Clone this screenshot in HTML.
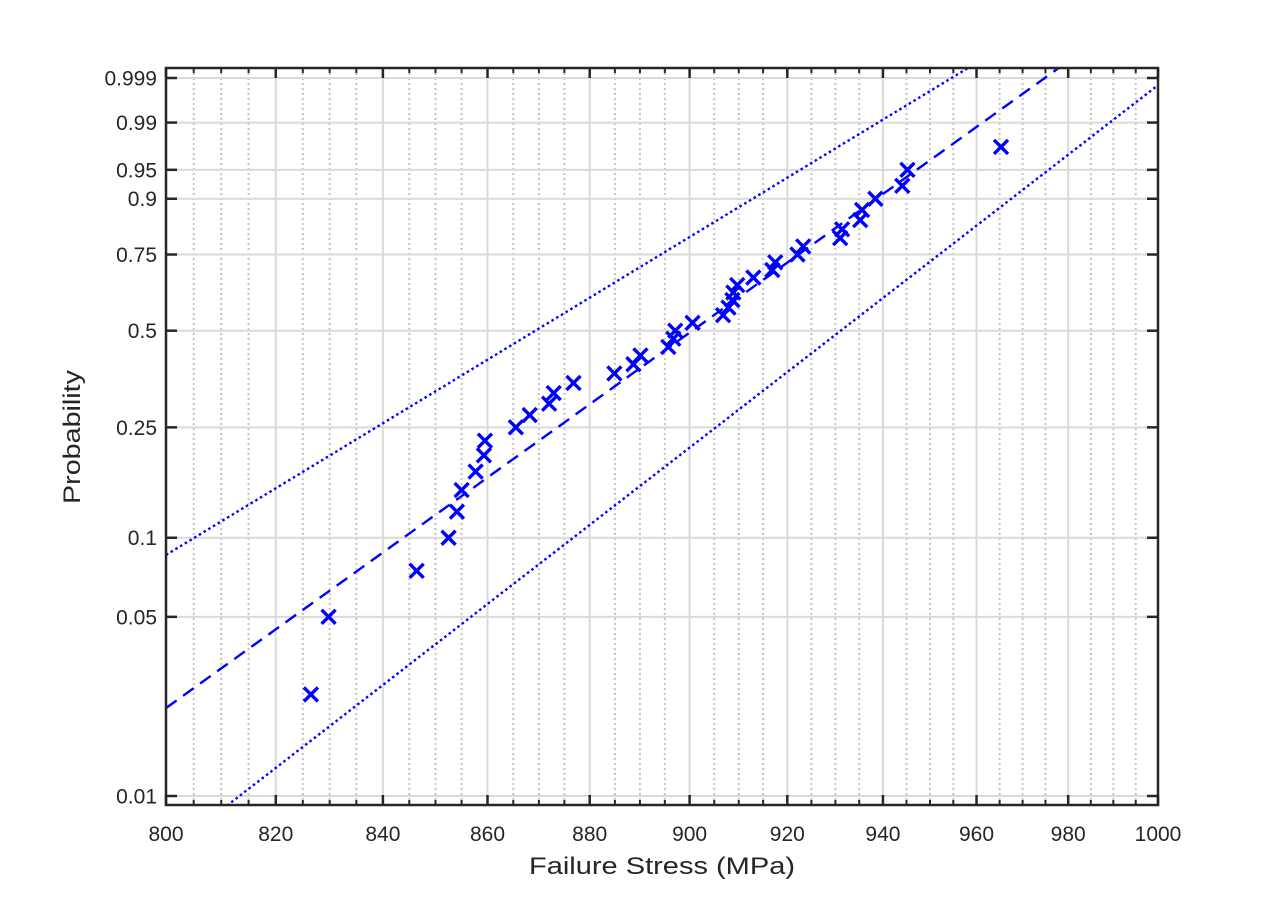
<!DOCTYPE html>
<html><head><meta charset="utf-8"><style>
html,body{margin:0;padding:0;background:#fff;}
svg{display:block;font-family:"Liberation Sans",Arial,sans-serif;}
</style></head><body>
<svg id="chart" width="1280" height="907" viewBox="0 0 1280 907" xmlns="http://www.w3.org/2000/svg">
<rect x="0" y="0" width="1280" height="907" fill="#fff"/>
<g id="grid"></g>
<g id="series"></g>
<g id="axes"></g>
<text x="662" y="874" font-size="24" text-anchor="middle" fill="#262626" textLength="266" lengthAdjust="spacingAndGlyphs">Failure Stress (MPa)</text>
<text x="0" y="0" font-size="24" text-anchor="middle" fill="#262626" textLength="134" lengthAdjust="spacingAndGlyphs" transform="translate(80,437) rotate(-90)">Probability</text>
</svg>
<script>
// ---- data ----
const stressValues = [826.5,829.8,846.4,852.5,854.1,855.0,857.7,859.3,859.5,865.5,868.2,872.0,872.9,876.8,884.9,888.7,890.1,895.7,896.7,897.1,900.6,906.8,907.9,908.7,908.9,909.7,913.0,916.9,917.5,922.1,923.3,931.0,931.4,935.2,935.6,938.4,944.1,945.2,965.3];
const xTicks = [800,820,840,860,880,900,920,940,960,980,1000];
const yTicks = [0.01,0.05,0.1,0.25,0.5,0.75,0.9,0.95,0.99,0.999];
const yTickLabels = ["0.01","0.05","0.1","0.25","0.5","0.75","0.9","0.95","0.99","0.999"];
const fitParams = [29.0, 912.0];        // [shape beta, scale eta]
const upperBound = [24.56, -2.407];      // [slope, w at 800 MPa]
const lowerBound = [31.30, -4.682, 811.2]; // [slope, w at ref stress, ref stress]

// ---- layout ----
const L=166,R=1158,T=68,B=805;
const X0=800,X1=1000;
function xs(v){return L+(Math.log(v)-Math.log(X0))/(Math.log(X1)-Math.log(X0))*(R-L);}
function wOf(p){return Math.log(-Math.log(1-p));}
const W0=wOf(0.01),W1=wOf(0.999),Y0=796,Y1=78;
function yw(w){return Y0+(w-W0)/(W1-W0)*(Y1-Y0);}
function ys(p){return yw(wOf(p));}
const NS="http://www.w3.org/2000/svg";
function mk(tag,attrs,parent){const e=document.createElementNS(NS,tag);for(const k in attrs)e.setAttribute(k,attrs[k]);parent.appendChild(e);return e;}
const grid=document.getElementById('grid'),series=document.getElementById('series'),axes=document.getElementById('axes');

for(let v=805;v<1000;v+=5){
  if(v%20===0)continue;
  const g=mk('line',{x1:xs(v),x2:xs(v),y1:T,y2:B,stroke:'#c4c4c4','stroke-width':2,'stroke-dasharray':'2 3'},grid);
  
  
}
xTicks.forEach(v=>{
  const g=mk('line',{x1:xs(v),x2:xs(v),y1:T,y2:B,stroke:'#dadada','stroke-width':2},grid);
  
  
});
yTicks.forEach(p=>{
  const g=mk('line',{x1:L,x2:R,y1:ys(p),y2:ys(p),stroke:'#dadada','stroke-width':2},grid);
  
  
});

const defs=mk('defs',{},series);
const cp=mk('clipPath',{id:'clip'},defs);
mk('rect',{x:L,y:T,width:R-L,height:B-T},cp);
const sg=mk('g',{'clip-path':'url(#clip)'},series);

function lineFrom(fn,dash,name){
  let d='';
  for(let i=0;i<=100;i++){const v=X0+(X1-X0)*i/100;d+=(i?'L':'M')+xs(v).toFixed(1)+','+yw(fn(v)).toFixed(1);}
  const e=mk('path',{d:d,fill:'none',stroke:'#0000ff','stroke-width':2.4,'stroke-dasharray':dash},sg);
  
  
}
lineFrom(v=>fitParams[0]*(Math.log(v)-Math.log(fitParams[1])),'13 8','fit-line');
lineFrom(v=>upperBound[1]+upperBound[0]*(Math.log(v)-Math.log(X0)),'2.5 3','upper-confidence-bound');
lineFrom(v=>lowerBound[1]+lowerBound[0]*(Math.log(v)-Math.log(lowerBound[2])),'2.5 3','lower-confidence-bound');

const n=stressValues.length;
stressValues.forEach((s,i)=>{
  const p=(i+1)/(n+1);
  const cx=xs(s),cy=ys(p),h=7;
  const g=mk('path',{d:`M${cx-h},${cy-h}L${cx+h},${cy+h}M${cx-h},${cy+h}L${cx+h},${cy-h}`,stroke:'#0000ff','stroke-width':3.4,fill:'none'},sg);
  
  
});

const box=mk('rect',{x:L,y:T,width:R-L,height:B-T,fill:'none',stroke:'#262626','stroke-width':2.5},axes);


for(let v=805;v<1000;v+=5){
  if(v%20===0)continue;
  const x=xs(v);
  mk('line',{x1:x,x2:x,y1:B,y2:B-5,stroke:'#262626','stroke-width':2},axes);
  mk('line',{x1:x,x2:x,y1:T,y2:T+5,stroke:'#262626','stroke-width':2},axes);
}
xTicks.forEach(v=>{
  const x=xs(v);
  mk('line',{x1:x,x2:x,y1:B,y2:B-10,stroke:'#262626','stroke-width':2.5},axes);
  mk('line',{x1:x,x2:x,y1:T,y2:T+10,stroke:'#262626','stroke-width':2.5},axes);
  const t=mk('text',{x:x,y:841,'font-size':21,'text-anchor':'middle',fill:'#262626'},axes);
  t.textContent=String(v);
  
  
});
yTicks.forEach((p,i)=>{
  const y=ys(p);
  mk('line',{x1:L,x2:L+11,y1:y,y2:y,stroke:'#262626','stroke-width':2.5},axes);
  mk('line',{x1:R,x2:R-11,y1:y,y2:y,stroke:'#262626','stroke-width':2.5},axes);
  const t=mk('text',{x:157,y:y+7.5,'font-size':21,'text-anchor':'end',fill:'#262626'},axes);
  t.textContent=yTickLabels[i];
  
  
});
</script>
</body></html>
